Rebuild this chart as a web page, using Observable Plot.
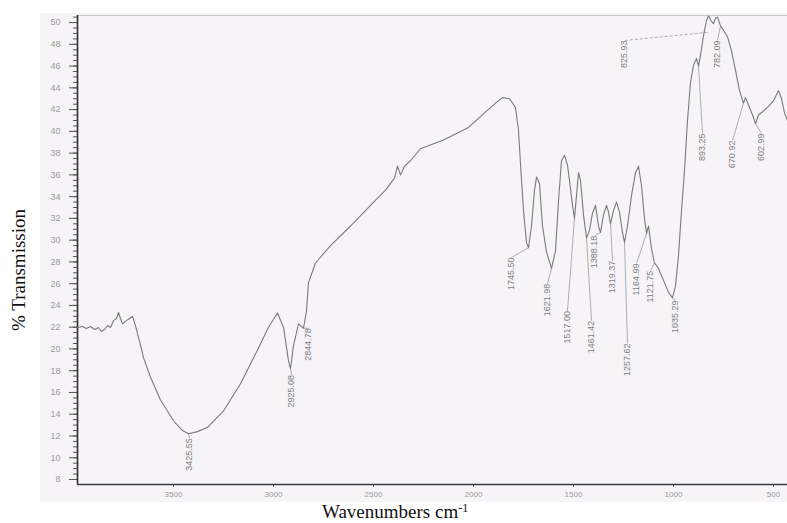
<!DOCTYPE html>
<html>
<head>
<meta charset="utf-8">
<script src="https://cdn.jsdelivr.net/npm/d3@7"></script>
<script src="https://cdn.jsdelivr.net/npm/@observablehq/plot@0.6"></script>
<style>
  html, body { margin: 0; padding: 0; background: #ffffff; }
  #wrap { position: relative; width: 787px; height: 523px; overflow: hidden; }
  #tint { position: absolute; left: 40px; top: 13px; width: 747px; height: 489px; background: #f6f4f7; }
  #chart { position: absolute; left: 0; top: 0; }
  #chart svg { background: transparent !important; }
  #xlabel { position: absolute; left: 322px; top: 504px; font-family: "Liberation Serif", "Times New Roman", serif; font-size: 19px; line-height: 15px; color: #111; white-space: nowrap; }
  #xlabel sup { font-size: 12px; vertical-align: 6px; line-height: 0; }
</style>
</head>
<body>
<div id="wrap">
  <div id="tint"></div>
  <div id="chart"></div>
  <div id="xlabel">Wavenumbers cm<sup>-1</sup></div>
</div>
<script>
// ---- spectrum (wavenumber cm-1, % transmission) ----
const wavenumber = [
  3980, 3955, 3935, 3915, 3895, 3875, 3860, 3845, 3830, 3815, 3800, 3785, 3775, 3765, 3755, 3735, 3720, 3705, 3690, 3675, 3660, 3650,
  3615, 3565, 3500, 3455, 3425, 3380, 3330, 3250, 3165, 3080, 3025, 2980, 2950, 2925, 2915, 2900, 2875, 2850, 2835, 2825, 2790, 2715, 2615,
  2515, 2440, 2395, 2380, 2365, 2345, 2315, 2265, 2150, 2030, 1950, 1890, 1855, 1820, 1790, 1775, 1765, 1750, 1735, 1725, 1710, 1695, 1685,
  1670, 1655, 1635, 1610, 1590, 1575, 1560, 1545, 1530, 1520, 1505, 1495, 1485, 1475, 1465, 1450, 1435, 1420, 1405, 1390, 1375, 1365,
  1350, 1335, 1325, 1315, 1300, 1285, 1270, 1255, 1245, 1230, 1210, 1190, 1175, 1160, 1145, 1135, 1125, 1110, 1095, 1075, 1050, 1025,
  1005, 990, 975, 960, 945, 930, 915, 900, 885, 875, 865, 850, 835, 825, 810, 800, 790, 780, 765, 750, 730, 710, 690, 670, 650, 640,
  620, 605, 590, 575, 555, 530, 500, 475, 460, 445, 430
];
const transmission = [
  21.97, 22.06, 21.88, 22.06, 21.79, 21.97, 21.6, 21.79, 22.15, 21.97, 22.6, 22.8, 23.35, 22.8, 22.3, 22.6, 22.8, 23.0, 22.15, 21.05, 20.0, 19.2,
  17.4, 15.3, 13.4, 12.5, 12.2, 12.4, 12.8, 14.3, 16.8, 19.9, 22.0, 23.3, 22.0, 18.9, 18.2, 20.3, 22.3, 21.9, 23.5, 26.1, 27.9, 29.5, 31.3,
  33.2, 34.6, 35.7, 36.8, 36.0, 36.8, 37.3, 38.4, 39.2, 40.3, 41.6, 42.6, 43.1, 43.0, 42.2, 40.1, 37.0, 32.7, 29.8, 29.3, 31.3, 34.6, 35.8,
  35.2, 31.3, 28.9, 27.4, 29.0, 33.6, 37.3, 37.8, 36.9, 35.5, 33.2, 32.0, 34.1, 36.2, 35.5, 32.3, 30.2, 30.9, 32.5, 33.2, 31.3, 30.7,
  32.3, 33.2, 32.6, 31.5, 32.7, 33.5, 32.6, 30.7, 29.8, 31.3, 34.1, 36.2, 36.8, 35.0, 32.0, 30.6, 31.3, 29.2, 27.9, 27.4, 26.3, 25.2,
  24.7, 25.8, 28.6, 32.7, 36.4, 41.0, 44.5, 46.1, 46.7, 46.0, 47.0, 48.8, 50.2, 50.6, 50.1, 49.9, 50.4, 50.5, 49.7, 49.3, 48.7, 47.4, 45.6, 43.75, 42.6, 43.1,
  42.2, 41.5, 40.7, 41.5, 41.8, 42.2, 42.8, 43.75, 43.0, 41.7, 41.0
];

// ---- axes ----
const xDomain = [3980, 430];
const yDomain = [7.54, 50.65];
const xTicks = [3500, 3000, 2500, 2000, 1500, 1000, 500];
const yTicks = [8, 10, 12, 14, 16, 18, 20, 22, 24, 26, 28, 30, 32, 34, 36, 38, 40, 42, 44, 46, 48, 50];
const yMinorTicks = d3.range(8, 50.75, 0.5);

// ---- peak annotations ----
const peakText  = ["3425.55", "2925.08", "2844.78", "1745.50", "1621.98", "1517.00", "1461.42", "1388.18", "1319.37", "1257.62", "1164.99", "1121.75", "1035.29", "893.25", "825.93", "782.09", "670.92", "602.99"];
const bandWn    = [3425, 2915, 2850, 1725, 1610, 1495, 1435, 1365, 1315, 1245, 1135, 1095, 1005, 875, 830, 765, 650, 590];
const bandT     = [12.2, 18.2, 21.9, 29.3, 27.4, 32.0, 30.2, 30.7, 31.5, 29.8, 30.6, 27.9, 24.7, 46.0, 49.1, 49.7, 42.6, 40.7];
const labelWn   = [3420, 2910, 2825, 1810, 1630, 1530, 1410, 1395, 1305, 1230, 1185, 1115, 990, 855, 1245, 780, 705, 560];
const labelT    = [11.8, 17.6, 21.9, 28.4, 26.0, 23.5, 22.6, 30.4, 28.1, 20.5, 27.85, 27.2, 24.45, 39.8, 48.35, 48.35, 39.15, 39.8];

const spectrum = wavenumber.map((w, i) => ({w, t: transmission[i]}));
const peaks = peakText.map((s, i) => ({s, bx: bandWn[i], bt: bandT[i], lx: labelWn[i], lt: labelT[i]}));
const longLeader = peaks.filter(p => p.s === "825.93");
const shortLeaders = peaks.filter(p => p.s !== "825.93");

const chart = Plot.plot({
  width: 787,
  height: 503,
  marginLeft: 77,
  marginRight: 0,
  marginTop: 15,
  marginBottom: 19,
  style: {fontFamily: "'Liberation Sans', Arial, sans-serif", background: "transparent"},
  x: {domain: xDomain},
  y: {domain: yDomain},
  marks: [
    Plot.ruleY([yDomain[1]], {stroke: "#c8c6ca", strokeWidth: 1}),
    Plot.axisY({ticks: yMinorTicks, tickSize: 4, tickFormat: () => "", stroke: "#555", label: null}),
    Plot.axisY({ticks: yTicks, tickSize: 8, tickPadding: 9, fontSize: 9, stroke: "#555", fill: "#9a9a9a", label: null}),
    Plot.axisX({ticks: xTicks, tickSize: 3, tickPadding: 4, fontSize: 8, stroke: "#666", fill: "#9a9a9a", tickFormat: d => String(d), label: null}),
    Plot.ruleX([xDomain[0]], {stroke: "#2e2e2e", strokeWidth: 1.6}),
    Plot.ruleY([yDomain[0]], {stroke: "#3a3a3a", strokeWidth: 1.6}),
    Plot.link(shortLeaders, {x1: "bx", y1: "bt", x2: "lx", y2: "lt", stroke: "#9a9a9a", strokeWidth: 0.8}),
    Plot.link(longLeader, {x1: "bx", y1: "bt", x2: "lx", y2: "lt", stroke: "#a5a5a5", strokeWidth: 0.9, strokeDasharray: "3,2"}),
    Plot.line(spectrum, {x: "w", y: "t", stroke: "#7a7a7a", strokeWidth: 1.1, clip: true}),
    Plot.text(peaks, {x: "lx", y: "lt", text: "s", rotate: -90, textAnchor: "end", lineAnchor: "middle", fontSize: 9, fill: "#808080"}),
    Plot.text(["% Transmission"], {frameAnchor: "left", textAnchor: "middle", rotate: -90, dx: -59, dy: 20, fontSize: 19, fontFamily: "'Liberation Serif', 'Times New Roman', serif", fill: "#111"})
  ]
});
document.getElementById("chart").appendChild(chart);
</script>
</body>
</html>
